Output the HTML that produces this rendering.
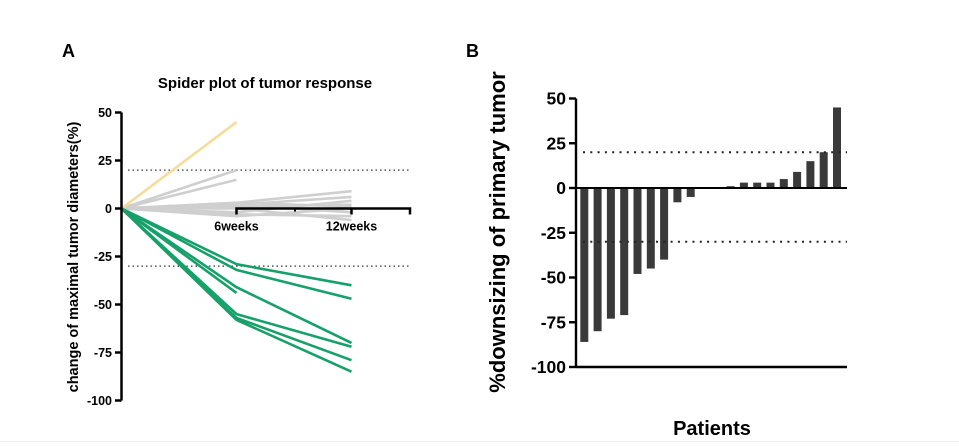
<!DOCTYPE html>
<html><head><meta charset="utf-8"><style>
body{margin:0;background:#fff;}
svg{display:block;font-family:"Liberation Sans",Arial,sans-serif;font-weight:bold;}
</style></head><body>
<svg id="s" width="959" height="446" viewBox="0 0 959 446">
<rect x="0" y="0" width="959" height="446" fill="#fff"/>
<line x1="0" y1="441.5" x2="959" y2="441.5" stroke="#eee"/>
<text x="62" y="57" font-size="18">A</text>
<text x="466" y="57" font-size="18">B</text>
<text x="265" y="88" font-size="15" text-anchor="middle">Spider plot of tumor response</text>
<text transform="translate(78,257) rotate(-90)" font-size="14.5" text-anchor="middle">change of maximal tumor diameters(%)</text>
<text transform="translate(505,232) rotate(-90)" font-size="22" text-anchor="middle">%downsizing of primary tumor</text>
<text x="712" y="435" font-size="20" text-anchor="middle">Patients</text>
<g id="ga"></g>
<g id="gb"></g>
</svg>
<script>
const NS="http://www.w3.org/2000/svg";
function mk(t,a,p){const e=document.createElementNS(NS,t);for(const k in a)e.setAttribute(k,a[k]);p.appendChild(e);return e;}
// Chart A data
const aTicks=[50,25,0,-25,-50,-75,-100];
const aTimeLabels=["6weeks","12weeks"];
const orangeSeries=[[0,45]];
const graySeries=[[0,20],[0,15],[0,3,9],[0,2,6],[0,-2,4],[0,1,2],[0,-3,-4],[0,0,-6],[0,2,-2],[0,-4,0],[0,3,1]];
const greenSeries=[[0,-29,-40],[0,-32,-47],[0,-44],[0,-41,-70],[0,-55,-72],[0,-57,-79],[0,-58,-85]];
const aRefLines=[20,-30];
// Chart B data
const bTicks=[50,25,0,-25,-50,-75,-100];
const bValues=[-86,-80,-73,-71,-48,-45,-40,-8,-5,0,0,1,3,3,3,5,9,15,20,45];
const bRefLines=[20,-30];

const ga=document.getElementById('ga'), gb=document.getElementById('gb');
const ay=v=>208.5-v*1.92, ax=i=>121.5+i*115;
aRefLines.forEach(v=>{const l=mk('line',{x1:128,x2:410,y1:ay(v),y2:ay(v),stroke:'#333','stroke-width':1.3,'stroke-dasharray':'1.5 3'},ga);

});
function series(arr,col,name){arr.forEach((s,k)=>{const p=mk('polyline',{points:s.map((v,i)=>ax(i)+','+ay(v)).join(' '),fill:'none',stroke:col,'stroke-width':2.6},ga);

});}
series(graySeries,'#cfcfcf','stable');
series(orangeSeries,'#f6dc9c','progression');
series(greenSeries,'#17a06a','response');
// axes A
let e=mk('line',{x1:121.5,x2:121.5,y1:ay(50),y2:ay(-100),stroke:'#000','stroke-width':2.5},ga);


aTicks.forEach(v=>{mk('line',{x1:115,x2:121.5,y1:ay(v),y2:ay(v),stroke:'#000','stroke-width':2.5},ga);
const t=mk('text',{x:112,y:ay(v)+4.5,'font-size':12.5,'text-anchor':'end'},ga);t.textContent=v;

});
e=mk('polyline',{points:`${ax(1)},${ay(0)+6} ${ax(1)},${ay(0)} 410,${ay(0)} 410,${ay(0)+6}`,fill:'none',stroke:'#000','stroke-width':2.5},ga);


mk('line',{x1:ax(2),x2:ax(2),y1:ay(0),y2:ay(0)+6,stroke:'#000','stroke-width':2.5},ga);
mk('line',{x1:295,x2:295,y1:ay(0),y2:ay(0)+3,stroke:'#000','stroke-width':2},ga);
aTimeLabels.forEach((s,i)=>{const t=mk('text',{x:ax(i+1),y:ay(0)+22,'font-size':12.5,'text-anchor':'middle'},ga);t.textContent=s;

});
// Chart B
const by=v=>188-v*1.79, bx=i=>584.3+i*13.3;
bValues.forEach((v,i)=>{const y0=by(0),y1=by(v);const r=mk('rect',{x:bx(i)-4,y:Math.min(y0,y1),width:8,height:Math.abs(y1-y0),fill:'#3a3a3a'},gb);

});
bRefLines.forEach(v=>{const l=mk('line',{x1:583,x2:847,y1:by(v),y2:by(v),stroke:'#222','stroke-width':2,'stroke-dasharray':'2 5.3'},gb);

});
e=mk('line',{x1:576,x2:576,y1:by(50),y2:by(-100),stroke:'#000','stroke-width':2.4},gb);


e=mk('line',{x1:576,x2:847,y1:by(-100),y2:by(-100),stroke:'#000','stroke-width':2.4},gb);


e=mk('line',{x1:576,x2:847,y1:by(0),y2:by(0),stroke:'#000','stroke-width':2},gb);


bTicks.forEach(v=>{mk('line',{x1:569,x2:576,y1:by(v),y2:by(v),stroke:'#000','stroke-width':2.4},gb);
const t=mk('text',{x:566,y:by(v)+6,'font-size':17.5,'text-anchor':'end'},gb);t.textContent=v;

});
</script>
</body></html>
